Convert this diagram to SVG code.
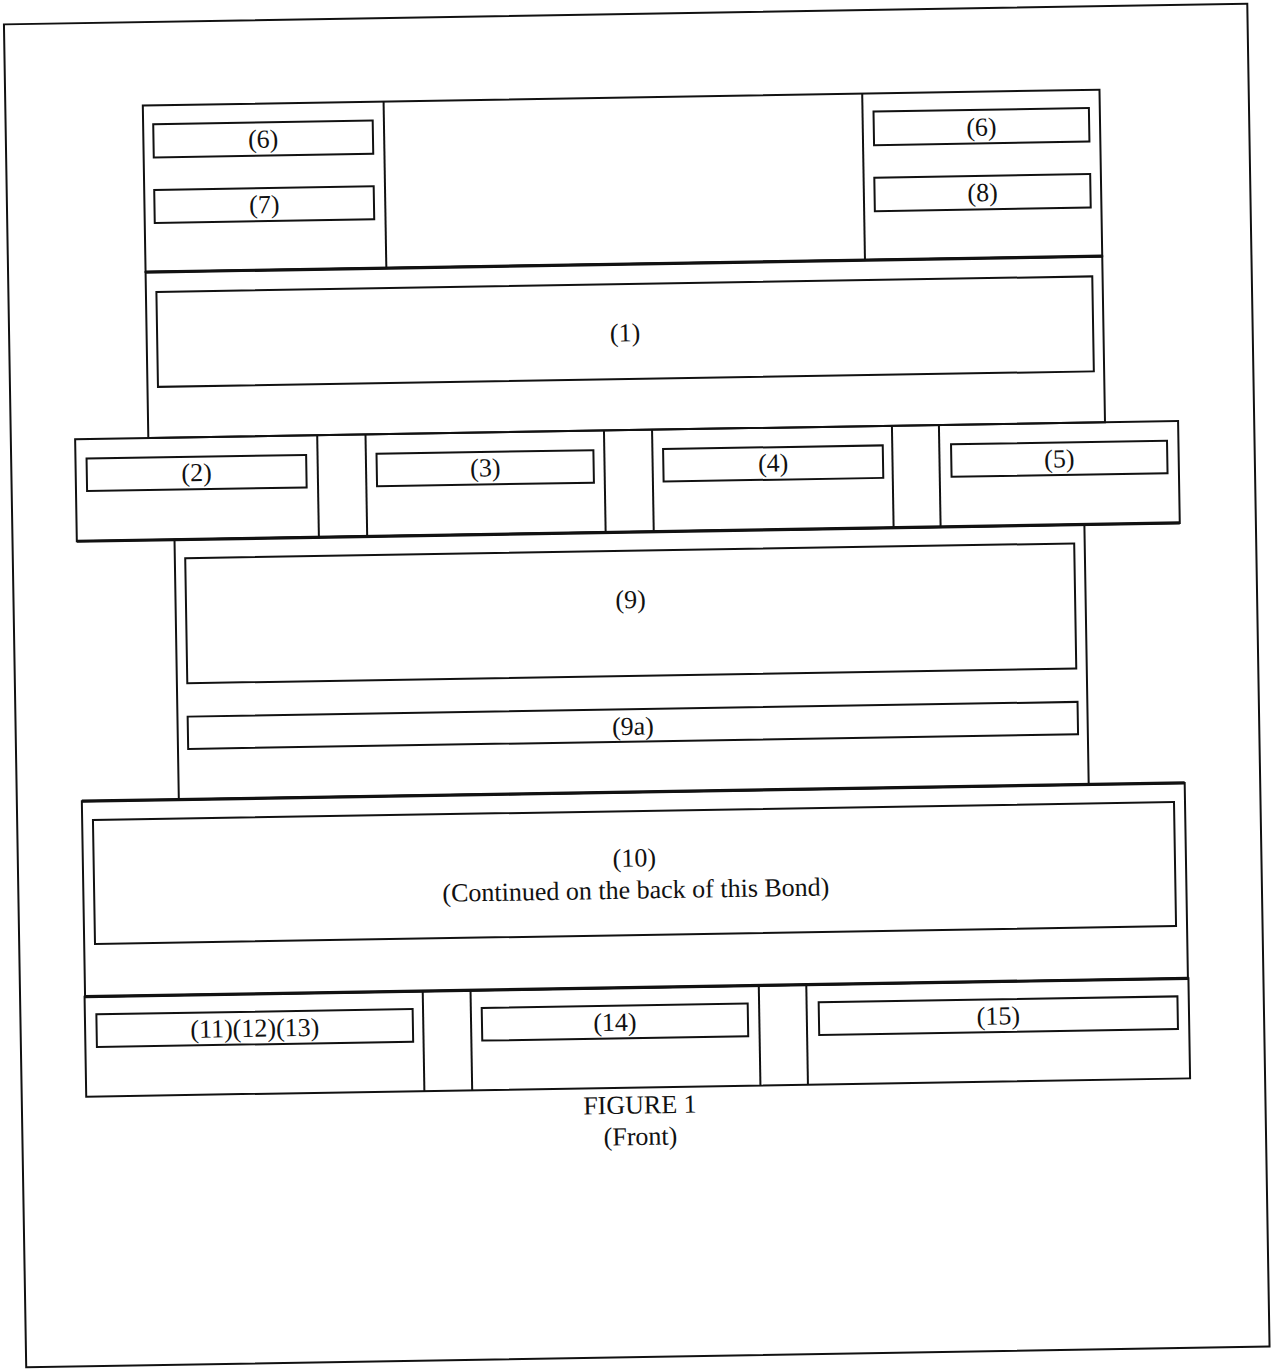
<svg xmlns="http://www.w3.org/2000/svg" width="1272" height="1372" viewBox="0 0 1272 1372">
<style>
.f{fill:none;stroke:#111;stroke-width:2}
.s{fill:none;stroke:#111;stroke-width:3.2}
.t{font-family:"Liberation Serif","Times New Roman",serif;font-size:26px;text-anchor:middle;fill:#111}
</style>
<rect width="1272" height="1372" fill="#fff"/>
<g transform="rotate(-0.95 636 686)">
<rect id="page" class="f" x="15" y="14" width="1243.5" height="1343"/>

<g id="header">
<rect class="f" x="152.5" y="97.5" width="956.8" height="166.5"/>
<line class="f" x1="393.3" y1="97.5" x2="393.3" y2="264"/>
<line class="f" x1="872" y1="97.5" x2="872" y2="264"/>
</g>
<g id="field-6-left"><rect class="f" x="162.6" y="116.3" width="219.5" height="33.2"/><text class="t" x="272.3" y="141.5">(6)</text></g>
<g id="field-7"><rect class="f" x="162.5" y="182" width="219.5" height="33"/><text class="t" x="272.3" y="207">(7)</text></g>
<g id="field-6-right"><rect class="f" x="883" y="115.6" width="215.4" height="33.6"/><text class="t" x="990.7" y="141.5">(6)</text></g>
<g id="field-8"><rect class="f" x="882.7" y="181.7" width="215.9" height="33.5"/><text class="t" x="990.7" y="207">(8)</text></g>

<g id="section-1">
<rect class="f" x="152.5" y="264" width="956.8" height="166"/>
<rect class="f" x="163" y="284" width="936" height="95"/>
<text class="t" x="631" y="341.3">(1)</text>
</g>

<g id="row-2">
<rect class="f" x="79.3" y="430" width="1103.1" height="102"/>
<line class="f" x1="321.4" y1="430" x2="321.4" y2="532"/>
<line class="f" x1="369.7" y1="430" x2="369.7" y2="532"/>
<line class="f" x1="608.2" y1="430" x2="608.2" y2="532"/>
<line class="f" x1="656.3" y1="430" x2="656.3" y2="532"/>
<line class="f" x1="896.2" y1="430" x2="896.2" y2="532"/>
<line class="f" x1="943.2" y1="430" x2="943.2" y2="532"/>
</g>
<g id="field-2"><rect class="f" x="90.4" y="449.5" width="219.6" height="32.5"/><text class="t" x="200.2" y="474">(2)</text></g>
<g id="field-3"><rect class="f" x="380.4" y="449.5" width="216.9" height="32.5"/><text class="t" x="488.9" y="474">(3)</text></g>
<g id="field-4"><rect class="f" x="667" y="449.5" width="219.7" height="32.5"/><text class="t" x="776.9" y="474">(4)</text></g>
<g id="field-5"><rect class="f" x="955" y="449.5" width="216" height="32.5"/><text class="t" x="1063" y="474.5">(5)</text></g>

<g id="section-9">
<rect class="f" x="177" y="532" width="910" height="260"/>
<rect class="f" x="187.4" y="550.7" width="889.1" height="125.1"/>
<text class="t" x="632" y="608">(9)</text>
</g>
<g id="field-9a"><rect class="f" x="187.2" y="709.2" width="890" height="32.3"/><text class="t" x="632.3" y="734.8">(9a)</text></g>

<g id="section-10">
<rect class="f" x="80" y="792" width="1103" height="195.5"/>
<rect class="f" x="90.8" y="811" width="1081.2" height="124"/>
<text class="t" x="631.4" y="866.5">(10)</text>
<text class="t" x="632.5" y="898.5">(Continued on the back of this Bond)</text>
</g>

<g id="row-5">
<rect class="f" x="79.5" y="987.5" width="1104" height="100"/>
<line class="f" x1="417.7" y1="987.5" x2="417.7" y2="1087.5"/>
<line class="f" x1="465.5" y1="987.5" x2="465.5" y2="1087.5"/>
<line class="f" x1="753.8" y1="987.5" x2="753.8" y2="1087.5"/>
<line class="f" x1="801.3" y1="987.5" x2="801.3" y2="1087.5"/>
</g>
<g id="field-11-12-13"><rect class="f" x="91" y="1005.3" width="316.3" height="32.7"/><text class="t" x="249.2" y="1030.5">(11)(12)(13)</text></g>
<g id="field-14"><rect class="f" x="476.4" y="1005.3" width="266" height="32.7"/><text class="t" x="609.4" y="1030.5">(14)</text></g>
<g id="field-15"><rect class="f" x="813.4" y="1005.3" width="358.8" height="32.7"/><text class="t" x="992.8" y="1030.5">(15)</text></g>

<g id="separators">
<line class="s" x1="152.5" y1="264" x2="1109.3" y2="264"/>
<line class="s" x1="79.3" y1="532" x2="1182.4" y2="532"/>
<line class="s" x1="80" y1="792" x2="1183" y2="792"/>
<line class="s" x1="79.5" y1="987.5" x2="1183.5" y2="987.5"/>
</g>

<g id="caption">
<text class="t" x="633" y="1113.5">FIGURE 1</text>
<text class="t" x="633" y="1145">(Front)</text>
</g>
</g>
</svg>
